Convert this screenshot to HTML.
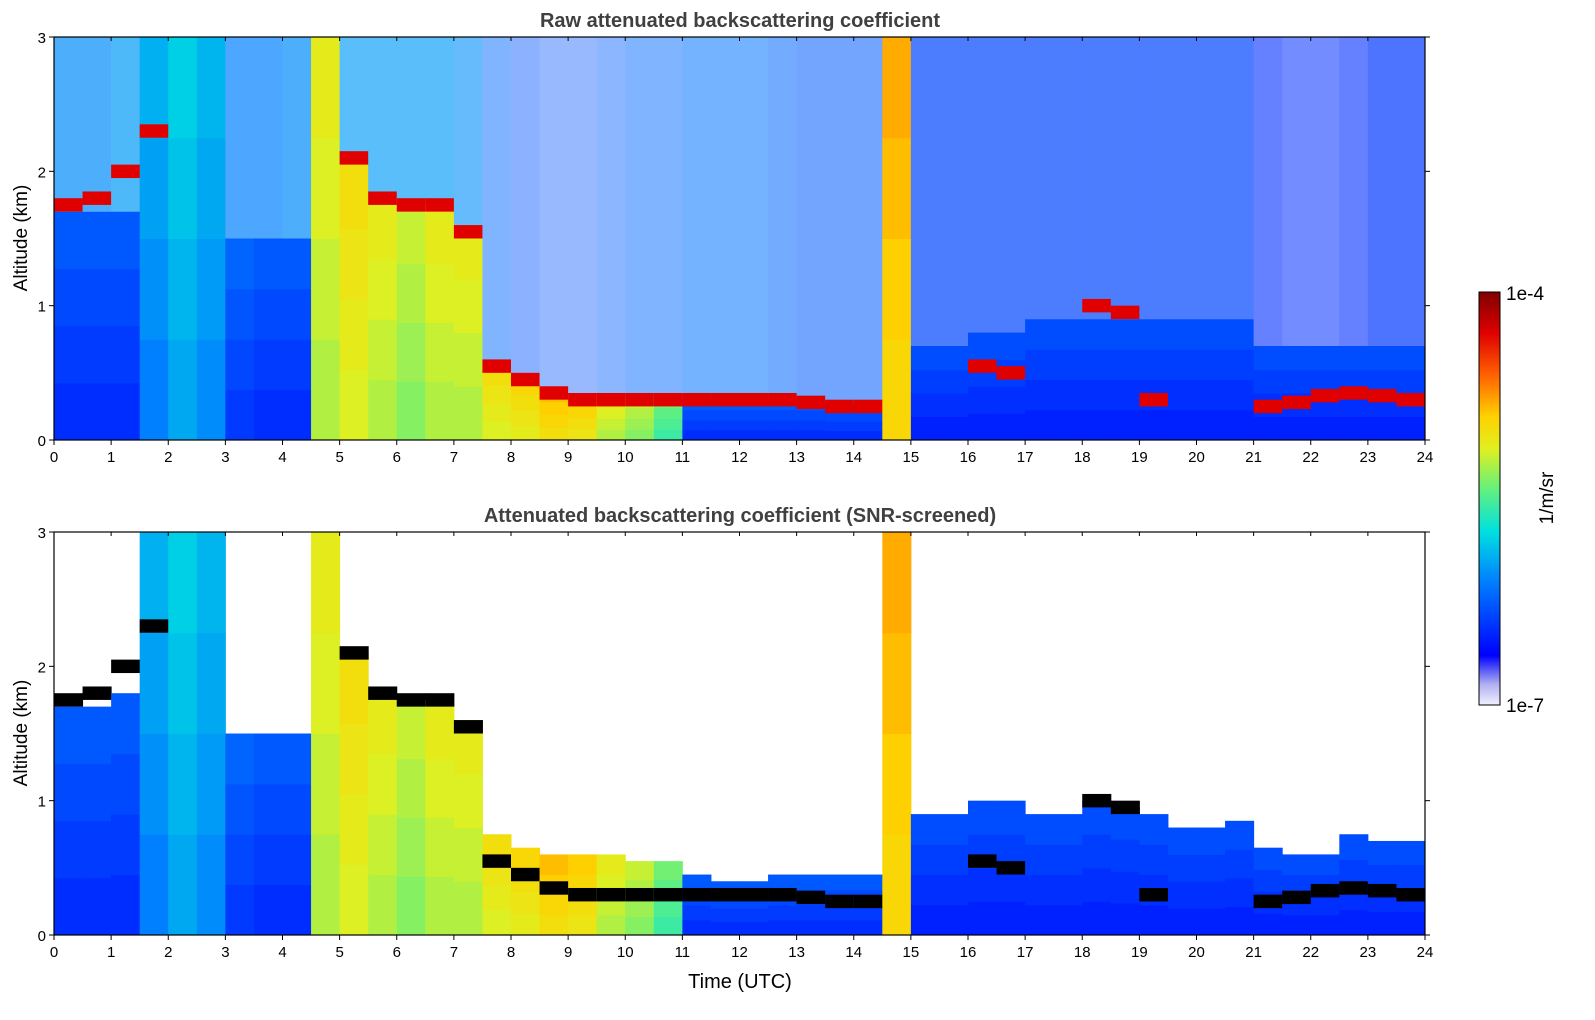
<!DOCTYPE html>
<html><head><meta charset="utf-8">
<style>
body{margin:0;background:#fff;width:1595px;height:1020px;overflow:hidden;font-family:"Liberation Sans","DejaVu Sans",sans-serif}
svg{position:absolute;left:0;top:0}
</style></head>
<body>
<svg id="chart" width="1595" height="1020">
  <defs>
    <linearGradient id="cbgrad" x1="0" y1="1" x2="0" y2="0">
      <stop offset="0" stop-color="#f0f0ff"/><stop offset="0.05" stop-color="#b0b0f0"/>
      <stop offset="0.12" stop-color="#0000ff"/><stop offset="0.3" stop-color="#0080ff"/>
      <stop offset="0.42" stop-color="#00e0e0"/><stop offset="0.52" stop-color="#60f080"/>
      <stop offset="0.62" stop-color="#e0f020"/><stop offset="0.7" stop-color="#ffd000"/>
      <stop offset="0.8" stop-color="#ff6000"/><stop offset="0.9" stop-color="#e00000"/>
      <stop offset="1" stop-color="#800000"/>
    </linearGradient>
  </defs>
  <g id="p1"></g>
  <g id="p2"></g>
  <text x="740" y="27" text-anchor="middle" font-size="20" font-weight="bold" fill="#404040">Raw attenuated backscattering coefficient</text>
  <text x="740" y="522" text-anchor="middle" font-size="20" font-weight="bold" fill="#404040">Attenuated backscattering coefficient (SNR-screened)</text>
  <text transform="translate(27,238) rotate(-90)" text-anchor="middle" font-size="19">Altitude (km)</text>
  <text transform="translate(27,733) rotate(-90)" text-anchor="middle" font-size="19">Altitude (km)</text>
  <text x="740" y="988" text-anchor="middle" font-size="20">Time (UTC)</text>
  <rect x="1479" y="292" width="21" height="413" fill="url(#cbgrad)" stroke="#000"/>
  <text x="1506" y="300" font-size="19">1e-4</text>
  <text x="1506" y="712" font-size="19">1e-7</text>
  <text transform="translate(1553,498) rotate(-90)" text-anchor="middle" font-size="19">1/m/sr</text>
</svg>
<script>
// half-hour columns, 0..23.5 h
const times = Array.from({length:48},(_,i)=>i*0.5);
const lowVal = [-6.45,-6.45,-6.45,-6.1,-5.8,-5.9,-6.4,-6.45,-6.45,-5.1,-5.0,-5.1,-5.2,-5.1,-5.1,-5.0,-4.95,-4.85,-4.9,-5.1,-5.2,-5.4,-6.45,-6.45,-6.45,-6.45,-6.45,-6.45,-6.45,-4.8,-6.5,-6.5,-6.5,-6.5,-6.5,-6.5,-6.5,-6.5,-6.5,-6.5,-6.5,-6.5,-6.5,-6.5,-6.5,-6.5,-6.5,-6.5];
const layerTop = [1.7,1.7,1.7,3,3,3,1.5,1.5,1.5,3,2.1,1.8,1.75,1.75,1.6,0.55,0.45,0.38,0.33,0.32,0.32,0.32,0.3,0.3,0.3,0.3,0.3,0.28,0.28,3,0.7,0.7,0.8,0.8,0.9,0.9,0.9,0.9,0.9,0.9,0.9,0.9,0.7,0.7,0.7,0.7,0.7,0.7];
const cloudH = [1.75,1.8,2.0,2.3,0,0,0,0,0,0,2.1,1.8,1.75,1.75,1.55,0.55,0.45,0.35,0.3,0.3,0.3,0.3,0.3,0.3,0.3,0.3,0.28,0.25,0.25,0,0,0,0.55,0.5,0,0,1.0,0.95,0.3,0,0,0,0.25,0.28,0.33,0.35,0.33,0.3];
const upperVal = [-6.05,-6.05,-6.0,-6.0,-5.9,-5.9,-6.1,-6.1,-6.05,-5.7,-6.0,-6.0,-6.0,-6.0,-6.05,-6.2,-6.3,-6.3,-6.3,-6.25,-6.2,-6.2,-6.15,-6.15,-6.15,-6.2,-6.25,-6.25,-6.25,-5.8,-6.35,-6.35,-6.35,-6.35,-6.35,-6.35,-6.35,-6.35,-6.35,-6.35,-6.35,-6.35,-6.45,-6.45,-6.45,-6.45,-6.4,-6.4];
// fraction of white speckle in the raw noise region
const upperWhite = [0.3,0.3,0.3,0.2,0.1,0.1,0.3,0.3,0.3,0.1,0.35,0.35,0.35,0.35,0.4,0.5,0.55,0.6,0.6,0.55,0.5,0.5,0.45,0.45,0.45,0.45,0.45,0.45,0.45,0.2,0.3,0.3,0.3,0.3,0.3,0.3,0.3,0.3,0.3,0.3,0.3,0.3,0.4,0.45,0.45,0.4,0.3,0.3];
const screenTop = [1.7,1.7,1.8,3,3,3,1.5,1.5,1.5,3,2.1,1.8,1.75,1.75,1.6,0.75,0.65,0.6,0.6,0.6,0.55,0.55,0.45,0.4,0.4,0.45,0.45,0.45,0.45,3,0.9,0.9,1.0,1.0,0.9,0.9,1.0,0.95,0.9,0.8,0.8,0.85,0.65,0.6,0.6,0.75,0.7,0.7];
const xTicks = Array.from({length:25},(_,i)=>i);
const yTicks = [0,1,2,3];

const stops=[[0,[240,240,255]],[0.05,[176,176,240]],[0.12,[0,0,255]],[0.3,[0,128,255]],[0.42,[0,224,224]],[0.52,[96,240,128]],[0.62,[224,240,32]],[0.7,[255,208,0]],[0.8,[255,96,0]],[0.9,[224,0,0]],[1,[128,0,0]]];
function rgb(v){let f=Math.max(0,Math.min(1,(v+7)/3));for(let i=1;i<stops.length;i++){if(f<=stops[i][0]){const a=stops[i-1],b=stops[i],t=(f-a[0])/(b[0]-a[0]);return a[1].map((x,k)=>Math.round(x+(b[1][k]-x)*t));}}return [128,0,0];}
function cmap(v){return `rgb(${rgb(v)})`;}
function cmapW(v,w){const c=rgb(v).map(x=>Math.round(x+(255-x)*w));return `rgb(${c})`;}
const NS='http://www.w3.org/2000/svg';
const X0=54,X1=1425,H=403;
const xs=t=>X0+(X1-X0)*t/24;
function mk(tag,attrs,parent){const e=document.createElementNS(NS,tag);for(const k in attrs)e.setAttribute(k,attrs[k]);parent.appendChild(e);return e;}
function panel(g,y0,screened){
  const ys=a=>y0+H-H*a/3;
  mk('rect',{x:X0,y:y0,width:X1-X0,height:H,fill:'#fff'},g);
  times.forEach((t,i)=>{
    const x=xs(t),w=xs(t+0.5)-x+0.5;
    const top=screened?screenTop[i]:layerTop[i];
    if(!screened){const r=mk('rect',{x:x,y:y0,width:w,height:ys(top)-y0,fill:cmapW(upperVal[i],upperWhite[i])},g);
      
      }
    for(let k=0;k<4;k++){const a0=top*k/4,a1=top*(k+1)/4;
      const v=lowVal[i]+(lowVal[i]<-6?0.06*k:-0.05*(3-k));
      const r=mk('rect',{x:x,y:ys(a1),width:w,height:ys(a0)-ys(a1)+0.5,fill:cmap(v)},g);
      
      }
    if(cloudH[i]>0){const r=mk('rect',{x:x,y:ys(cloudH[i]+0.05),width:w,height:H*0.1/3,fill:screened?'#000':cmap(-4.3)},g);
      
      }
  });
  mk('rect',{x:X0,y:y0,width:X1-X0,height:H,fill:'none',stroke:'#000','stroke-width':1.2},g);
  xTicks.forEach(t=>{const x=xs(t);
    mk('line',{x1:x,x2:x,y1:y0+H,y2:y0+H+5,stroke:'#000'},g);
    mk('line',{x1:x,x2:x,y1:y0,y2:y0+4,stroke:'#000'},g);
    const tx=mk('text',{x:x,y:y0+H+22,'text-anchor':'middle','font-size':15},g);tx.textContent=t;
    
    });
  yTicks.forEach(a=>{const y=ys(a);
    mk('line',{x1:X0-5,x2:X0,y1:y,y2:y,stroke:'#000'},g);
    mk('line',{x1:X1,x2:X1+5,y1:y,y2:y,stroke:'#000'},g);
    const tx=mk('text',{x:X0-8,y:y+6,'text-anchor':'end','font-size':15},g);tx.textContent=a;
    
    });
}
panel(document.getElementById('p1'),37,false);
panel(document.getElementById('p2'),532,true);
</script>
</body></html>
